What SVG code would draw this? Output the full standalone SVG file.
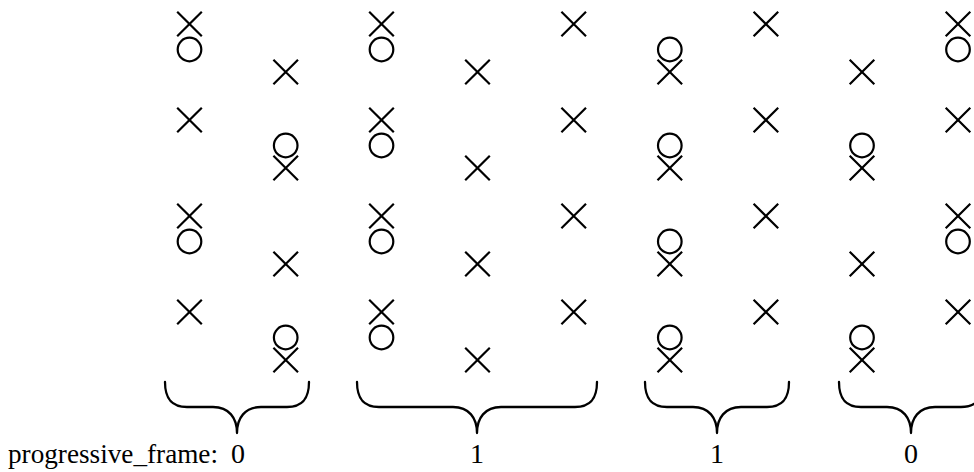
<svg xmlns="http://www.w3.org/2000/svg" xmlns:xlink="http://www.w3.org/1999/xlink" width="974" height="472" viewBox="0 0 974 472">
<style>
.m{fill:none;stroke:#000;stroke-width:2.2}
.br{fill:none;stroke:#000;stroke-width:2.3;stroke-linecap:round}
.t{font-family:"Liberation Serif","Times New Roman",serif;font-size:28px;fill:#000}
</style>
<defs>
<path id="x" class="m" d="M-12.3,-12.3L12.3,12.3M12.3,-12.3L-12.3,12.3"/>
<circle id="o" class="m" r="11.8"/>
</defs>
<rect width="974" height="472" fill="#fff"/>
<g id="colA" transform="translate(189.5,0)">
<use xlink:href="#x" y="24"/><use xlink:href="#o" y="49.5"/>
<use xlink:href="#x" y="120"/>
<use xlink:href="#x" y="216"/><use xlink:href="#o" y="241.5"/>
<use xlink:href="#x" y="312"/>
</g>
<g id="colB" transform="translate(285.7,0)">
<use xlink:href="#x" y="72"/>
<use xlink:href="#o" y="145.5"/><use xlink:href="#x" y="168"/>
<use xlink:href="#x" y="264"/>
<use xlink:href="#o" y="337.5"/><use xlink:href="#x" y="360"/>
</g>
<g id="colC" transform="translate(381.5,0)">
<use xlink:href="#x" y="24"/><use xlink:href="#o" y="49.5"/>
<use xlink:href="#x" y="120"/><use xlink:href="#o" y="145.5"/>
<use xlink:href="#x" y="216"/><use xlink:href="#o" y="241.5"/>
<use xlink:href="#x" y="312"/><use xlink:href="#o" y="337.5"/>
</g>
<g id="colD" transform="translate(477.5,0)">
<use xlink:href="#x" y="72"/>
<use xlink:href="#x" y="168"/>
<use xlink:href="#x" y="264"/>
<use xlink:href="#x" y="360"/>
</g>
<g id="colE" transform="translate(573.7,0)">
<use xlink:href="#x" y="24"/>
<use xlink:href="#x" y="120"/>
<use xlink:href="#x" y="216"/>
<use xlink:href="#x" y="312"/>
</g>
<g id="colF" transform="translate(669.8,0)">
<use xlink:href="#o" y="49.5"/><use xlink:href="#x" y="72"/>
<use xlink:href="#o" y="145.5"/><use xlink:href="#x" y="168"/>
<use xlink:href="#o" y="241.5"/><use xlink:href="#x" y="264"/>
<use xlink:href="#o" y="337.5"/><use xlink:href="#x" y="360"/>
</g>
<g id="colG" transform="translate(765.9,0)">
<use xlink:href="#x" y="24"/>
<use xlink:href="#x" y="120"/>
<use xlink:href="#x" y="216"/>
<use xlink:href="#x" y="312"/>
</g>
<g id="colH" transform="translate(862,0)">
<use xlink:href="#x" y="72"/>
<use xlink:href="#o" y="145.5"/><use xlink:href="#x" y="168"/>
<use xlink:href="#x" y="264"/>
<use xlink:href="#o" y="337.5"/><use xlink:href="#x" y="360"/>
</g>
<g id="colI" transform="translate(958,0)">
<use xlink:href="#x" y="24"/><use xlink:href="#o" y="49.5"/>
<use xlink:href="#x" y="120"/>
<use xlink:href="#x" y="216"/><use xlink:href="#o" y="241.5"/>
<use xlink:href="#x" y="312"/>
</g>
<g id="braces">
<path class="br" d="M165,382C165,398 171,407 187,407L213,407C229,407 237,418 237,433M309,382C309,398 303,407 287,407L261,407C245,407 237,418 237,433"/>
<path class="br" d="M357,382C357,398 363,407 379,407L453,407C469,407 477,418 477,433M597,382C597,398 591,407 575,407L501,407C485,407 477,418 477,433"/>
<path class="br" d="M645,382C645,398 651,407 667,407L693,407C709,407 717,418 717,433M789,382C789,398 783,407 767,407L741,407C725,407 717,418 717,433"/>
<path class="br" d="M839,382C839,398 845,407 861,407L887,407C903,407 911,418 911,433M983,382C983,398 977,407 961,407L935,407C919,407 911,418 911,433"/>
</g>
<g id="labels">
<text class="t" x="8" y="463" textLength="210" lengthAdjust="spacingAndGlyphs">progressive_frame:</text>
<text class="t" x="238" y="463" text-anchor="middle">0</text>
<text class="t" x="477" y="463" text-anchor="middle">1</text>
<text class="t" x="717" y="463" text-anchor="middle">1</text>
<text class="t" x="911" y="463" text-anchor="middle">0</text>
</g>
</svg>
